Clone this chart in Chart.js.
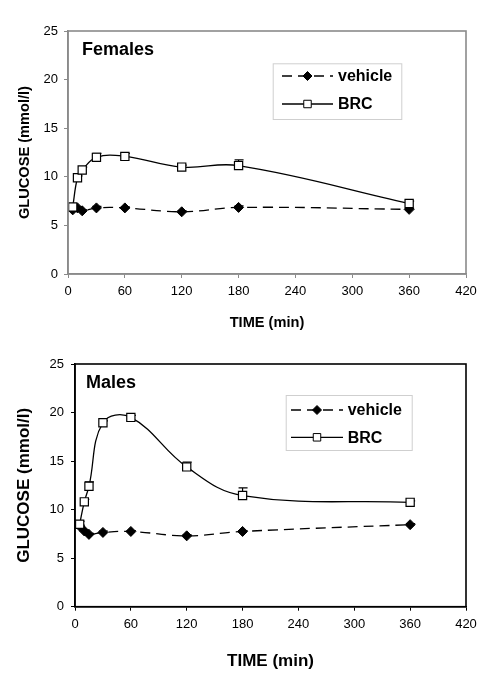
<!DOCTYPE html>
<html>
<head>
<meta charset="utf-8">
<script src="https://cdn.jsdelivr.net/npm/chart.js@4/dist/chart.umd.min.js"></script>
<style>
  html, body { margin: 0; padding: 0; background: #fff; }
  #wrap { position: relative; width: 500px; height: 684px; }
  #wrap canvas { position: absolute; left: 0; }
</style>
</head>
<body>
<div id="wrap">
  <canvas id="femaleChart" width="500" height="345" style="top:0"></canvas>
  <canvas id="maleChart" width="500" height="339" style="top:345px"></canvas>
</div>
<script>
// sampling times (min)
const times = [5, 10, 15, 30, 60, 120, 180, 360];
const xTicks = [0, 60, 120, 180, 240, 300, 360, 420];
const yTicks = [0, 5, 10, 15, 20, 25];

// glucose (mmol/l)
const femaleVehicle = [6.6, 6.8, 6.5, 6.8, 6.8, 6.4, 6.85, 6.65];
const femaleVehicleErr = [0.1, 0.1, 0.1, 0.15, 0.1, 0.1, 0.15, 0.1];
const femaleBrc = [6.9, 9.9, 10.7, 12.0, 12.1, 11.0, 11.15, 7.25];
const femaleBrcErr = [0.1, 0.2, 0.3, 0.4, 0.3, 0.2, 0.6, 0.25];

const maleVehicle = [8.3, 7.8, 7.45, 7.65, 7.75, 7.3, 7.75, 8.45];
const maleVehicleErr = [0.1, 0.1, 0.1, 0.15, 0.1, 0.1, 0.1, 0.1];
const maleBrc = [8.5, 10.8, 12.4, 18.95, 19.5, 14.4, 11.45, 10.75];
const maleBrcErr = [0.3, 0.25, 0.45, 0.2, 0.2, 0.5, 0.8, 0.15];

function points(values) {
  return times.map((t, i) => ({ x: t, y: values[i] }));
}

// upward error bars with a small cap, drawn under the markers
const errorBars = {
  id: "errorBars",
  beforeDatasetsDraw(chart) {
    const { ctx, scales: { x, y } } = chart;
    ctx.save();
    ctx.strokeStyle = "#000";
    ctx.lineWidth = 1.2;
    chart.data.datasets.forEach((ds) => {
      (ds.errors || []).forEach((err, i) => {
        const px = x.getPixelForValue(ds.data[i].x);
        const y0 = y.getPixelForValue(ds.data[i].y);
        const y1 = y.getPixelForValue(ds.data[i].y + err);
        ctx.beginPath();
        ctx.moveTo(px, y0);
        ctx.lineTo(px, y1);
        ctx.moveTo(px - 4, y1);
        ctx.lineTo(px + 5, y1);
        ctx.stroke();
      });
    });
    ctx.restore();
  },
};

// plot frame, panel label and boxed legend
const decorations = {
  id: "decorations",
  afterDraw(chart, args, opts) {
    const { ctx, chartArea } = chart;
    ctx.save();
    ctx.strokeStyle = opts.frameColor;
    ctx.lineWidth = 1.6;
    ctx.strokeRect(chartArea.left, chartArea.top, chartArea.right - chartArea.left, chartArea.bottom - chartArea.top);

    ctx.fillStyle = "#000";
    ctx.font = "bold 18px 'Liberation Sans', Arial, sans-serif";
    ctx.textBaseline = "middle";
    ctx.textAlign = "left";
    ctx.fillText(opts.label, chartArea.left + opts.labelDx, chartArea.top + 19);

    const lg = opts.legend;
    ctx.strokeStyle = "#cfcfcf";
    ctx.lineWidth = 1;
    ctx.strokeRect(lg.x + 0.5, lg.y + 0.5, lg.w, lg.h);
    chart.data.datasets.forEach((ds, i) => {
      const ly = lg.y + lg.rows[i];
      ctx.strokeStyle = "#000";
      ctx.lineWidth = 1.3;
      ctx.setLineDash(ds.borderDash || []);
      ctx.beginPath();
      ctx.moveTo(lg.x + lg.line0, ly);
      ctx.lineTo(lg.x + lg.line1, ly);
      ctx.stroke();
      ctx.setLineDash([]);
      ctx.fillStyle = ds.pointBackgroundColor;
      ctx.strokeStyle = "#000";
      ctx.lineWidth = 1;
      Chart.helpers.drawPoint(ctx, {
        pointStyle: ds.pointStyle,
        radius: ds.pointRadius - 0.5,
        borderWidth: 1,
        rotation: 0,
      }, lg.x + (lg.line0 + lg.line1) / 2, ly);
      ctx.fillStyle = "#000";
      ctx.font = "bold 16px 'Liberation Sans', Arial, sans-serif";
      ctx.fillText(ds.label, lg.x + lg.text, ly + 1);
    });
    ctx.restore();
  },
};

function createChart(canvasId, cfg) {
  const axisColor = cfg.frameColor;
  const tickFont = { family: "'Liberation Sans', Arial, sans-serif", size: 13 };
  const titleFont = { family: "'Liberation Sans', Arial, sans-serif", size: cfg.titleSize, weight: "bold" };
  return new Chart(document.getElementById(canvasId), {
    type: "line",
    data: {
      datasets: [
        {
          label: "vehicle",
          data: points(cfg.vehicle),
          errors: cfg.vehicleErr,
          order: 1,
          borderColor: "#000",
          borderWidth: 1.3,
          borderDash: [10, 6],
          tension: 0.4,
          pointStyle: "rectRot",
          pointRadius: 5,
          pointBackgroundColor: "#000",
          pointBorderColor: "#000",
          pointBorderWidth: 1,
        },
        {
          label: "BRC",
          data: points(cfg.brc),
          errors: cfg.brcErr,
          order: 0,
          borderColor: "#000",
          borderWidth: 1.3,
          tension: 0.4,
          pointStyle: "rect",
          pointRadius: 5.8,
          pointBackgroundColor: "#fff",
          pointBorderColor: "#000",
          pointBorderWidth: 1.2,
        },
      ],
    },
    options: {
      responsive: false,
      animation: false,
      layout: { padding: { top: cfg.padTop, right: 34, left: 0, bottom: 0 } },
      plugins: {
        legend: { display: false },
        tooltip: { enabled: false },
        decorations: { frameColor: cfg.frameColor, label: cfg.label, labelDx: cfg.labelDx, legend: cfg.legend },
      },
      scales: {
        x: {
          type: "linear",
          min: 0,
          max: 420,
          afterBuildTicks: (scale) => { scale.ticks = xTicks.map((v) => ({ value: v })); },
          afterFit: (scale) => { scale.height = cfg.xHeight; },
          ticks: { color: "#000", font: tickFont, padding: 6, maxRotation: 0 },
          grid: { display: true, drawOnChartArea: false, drawTicks: true, tickLength: 4, color: axisColor },
          border: { display: true, color: axisColor, width: 1.6 },
          title: { display: true, text: "TIME (min)", color: "#000", font: titleFont, padding: { top: 0, bottom: cfg.xTitlePad } },
        },
        y: {
          min: 0,
          max: 25,
          afterBuildTicks: (scale) => { scale.ticks = yTicks.map((v) => ({ value: v })); },
          afterFit: (scale) => { scale.width = cfg.yWidth; },
          ticks: { color: "#000", font: tickFont, padding: cfg.yTickPad },
          grid: { display: true, drawOnChartArea: false, drawTicks: true, tickLength: 4, color: axisColor },
          border: { display: true, color: axisColor, width: 1.6 },
          title: { display: true, text: "GLUCOSE (mmol/l)", color: "#000", font: titleFont, padding: { top: cfg.yTitlePad, bottom: 0 } },
        },
      },
    },
    plugins: [errorBars, decorations],
  });
}

createChart("femaleChart", {
  vehicle: femaleVehicle, vehicleErr: femaleVehicleErr,
  brc: femaleBrc, brcErr: femaleBrcErr,
  label: "Females", labelDx: 14,
  frameColor: "#8a8a8a",
  titleSize: 14.6,
  padTop: 31, xHeight: 71, yWidth: 68,
  xTitlePad: 13, yTitlePad: 16.3, yTickPad: 6,
  legend: { x: 272.7, y: 63.3, w: 128.6, h: 55.7, rows: [12.7, 40.7], line0: 9.3, line1: 60.3, text: 65.3 },
});

createChart("maleChart", {
  vehicle: maleVehicle, vehicleErr: maleVehicleErr,
  brc: maleBrc, brcErr: maleBrcErr,
  label: "Males", labelDx: 11,
  frameColor: "#000",
  titleSize: 17,
  padTop: 19, xHeight: 77.3, yWidth: 75,
  xTitlePad: 12, yTitlePad: 13.8, yTickPad: 7,
  legend: { x: 285.7, y: 50, w: 126, h: 55, rows: [15, 42.3], line0: 5.3, line1: 57.3, text: 62 },
});
</script>
</body>
</html>
